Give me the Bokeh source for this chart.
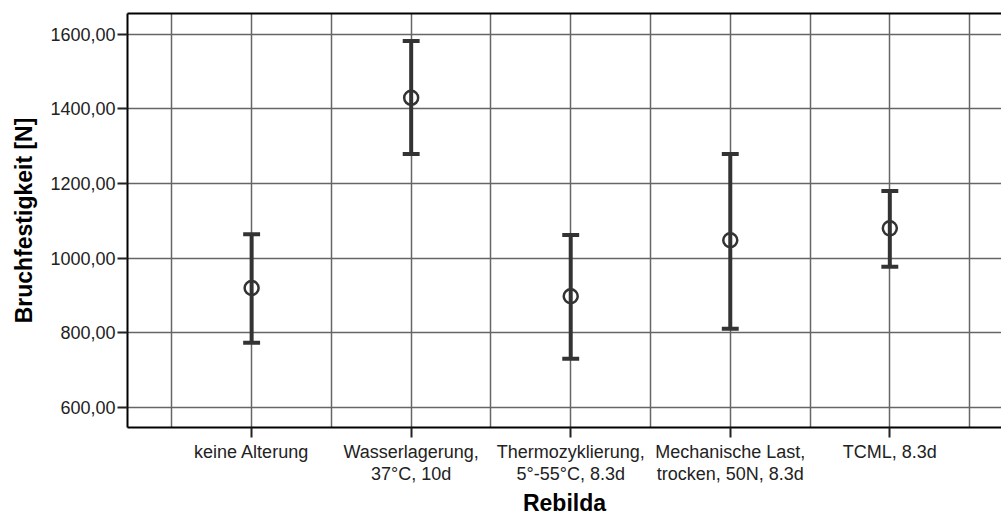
from bokeh.plotting import figure
from bokeh.models import Range1d, FixedTicker, LinearAxis, ColumnDataSource, Grid
from bokeh.embed import file_html
from bokeh.resources import INLINE

categories = ["keine Alterung", "Wasserlagerung,\n37°C, 10d", "Thermozyklierung,\n5°-55°C, 8.3d",
              "Mechanische Last,\ntrocken, 50N, 8.3d", "TCML, 8.3d"]
means = [920, 1430, 898, 1048, 1080]
upper = [1064, 1582, 1062, 1279, 1180]
lower = [773, 1279, 730, 811, 977]
y_ticks = [600, 800, 1000, 1200, 1400, 1600]
y_tick_labels = ["600,00", "800,00", "1000,00", "1200,00", "1400,00", "1600,00"]

xs = [i + 1 for i in range(len(categories))]
cap = 0.053
src = ColumnDataSource(dict(x=xs, m=means, up=upper, lo=lower,
                            xl=[x - cap for x in xs], xr=[x + cap for x in xs]))

p = figure(width=1001, height=518, output_backend="svg", toolbar_location=None,
           x_range=Range1d(0.222, 5.70), y_range=Range1d(546, 1656),
           min_border_left=127, min_border_top=13, min_border_bottom=91, min_border_right=0,
           x_axis_type=None, y_axis_type=None)
p.outline_line_color = None
p.background_fill_color = "white"
p.border_fill_color = "white"

font = "Liberation Sans"
tick_col = "#222222"

yax = LinearAxis(ticker=FixedTicker(ticks=y_ticks),
                 major_label_overrides={t: l for t, l in zip(y_ticks, y_tick_labels)})
yax.axis_label = "Bruchfestigkeit [N]"
yax.axis_label_text_font = font
yax.axis_label_text_font_style = "bold"
yax.axis_label_text_font_size = "23px"
yax.axis_label_text_color = "black"
yax.axis_label_standoff = 10
yax.major_label_text_font = font
yax.major_label_text_font_size = "18px"
yax.major_label_text_color = tick_col
yax.major_tick_out = 10
yax.major_tick_in = 0
yax.major_tick_line_color = tick_col
yax.major_tick_line_width = 2
yax.minor_tick_line_color = None
yax.axis_line_color = "black"
yax.axis_line_width = 2
yax.major_label_standoff = 2
p.add_layout(yax, "left")

xax = LinearAxis(ticker=FixedTicker(ticks=xs),
                 major_label_overrides={x: c for x, c in zip(xs, categories)})
xax.axis_label = "Rebilda"
xax.axis_label_text_font = font
xax.axis_label_text_font_style = "bold"
xax.axis_label_text_font_size = "23px"
xax.axis_label_text_color = "black"
xax.axis_label_standoff = 3
xax.major_label_text_font = font
xax.major_label_text_font_size = "18px"
xax.major_label_text_line_height = 1.1
xax.major_label_text_color = tick_col
xax.major_tick_out = 10
xax.major_tick_in = 0
xax.major_tick_line_color = tick_col
xax.major_tick_line_width = 2
xax.minor_tick_line_color = None
xax.axis_line_color = "black"
xax.axis_line_width = 2
xax.major_label_standoff = 4
p.add_layout(xax, "below")

top = LinearAxis(ticker=FixedTicker(ticks=[]))
top.axis_line_color = "black"
top.axis_line_width = 2
top.major_tick_line_color = None
top.minor_tick_line_color = None
top.major_label_text_font_size = "0px"
p.add_layout(top, "above")

grid_col = "#666666"
xgrid = Grid(dimension=0, ticker=FixedTicker(ticks=[0.5 + 0.5 * i for i in range(11)]),
             grid_line_color=grid_col, grid_line_width=1.5)
ygrid = Grid(dimension=1, ticker=FixedTicker(ticks=y_ticks),
             grid_line_color=grid_col, grid_line_width=1.5)
p.add_layout(xgrid)
p.add_layout(ygrid)

col = "#333333"
p.segment(x0="x", y0="lo", x1="x", y1="up", source=src, line_color=col, line_width=4)
p.segment(x0="xl", y0="up", x1="xr", y1="up", source=src, line_color=col, line_width=4)
p.segment(x0="xl", y0="lo", x1="xr", y1="lo", source=src, line_color=col, line_width=4)
p.scatter(x="x", y="m", source=src, marker="circle", size=14, fill_color=None,
          line_color=col, line_width=2.5)

open("out.html", "w").write(file_html(p, INLINE))
